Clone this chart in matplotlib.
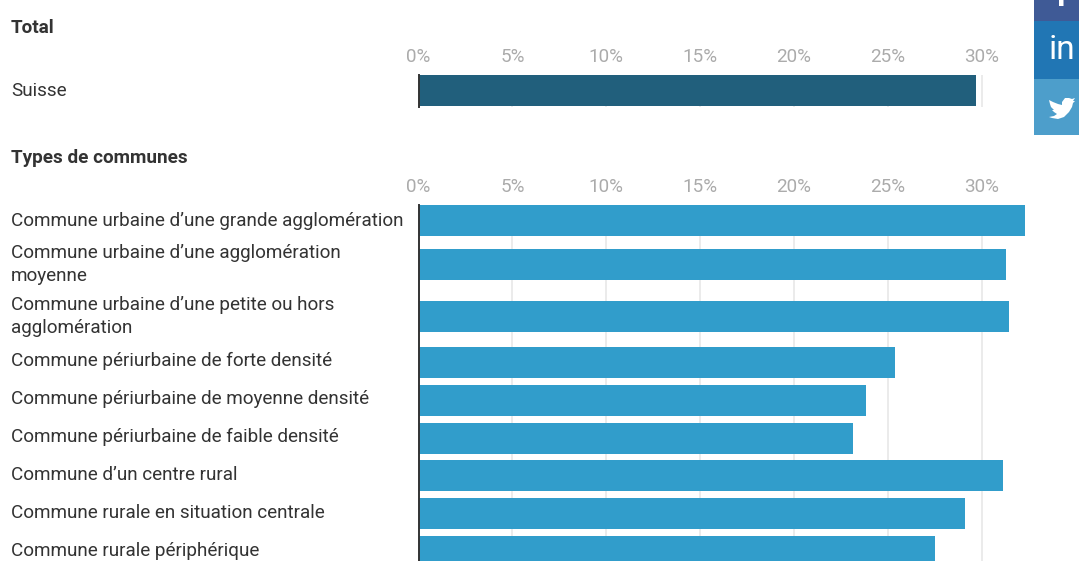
import matplotlib
matplotlib.use('Agg')
import matplotlib.pyplot as plt
from matplotlib.patches import Rectangle, Polygon

plt.rcParams['font.family'] = ['Roboto', 'DejaVu Sans']

W, H = 1079, 561

total_labels = ['Suisse']
total_values = [29.7]

commune_labels = ['Commune urbaine d\u2019une grande agglomération',
                  'Commune urbaine d\u2019une agglomération\nmoyenne',
                  'Commune urbaine d\u2019une petite ou hors\nagglomération',
                  'Commune périurbaine de forte densité',
                  'Commune périurbaine de moyenne densité',
                  'Commune périurbaine de faible densité',
                  'Commune d\u2019un centre rural',
                  'Commune rurale en situation centrale',
                  'Commune rurale périphérique']
commune_values = [32.3, 31.3, 31.45, 25.4, 23.85, 23.15, 31.15, 29.1, 27.5]

tick_values = [0, 5, 10, 15, 20, 25, 30]
tick_labels = ['0%', '5%', '10%', '15%', '20%', '25%', '30%']

x0 = 418.5         # pixel of 0%
px_per_pct = 18.77
x_end = 1034


def make_axes(y_top, y_bottom):
    ax = fig.add_axes([x0 / W, 1 - y_bottom / H, (x_end - x0) / W, (y_bottom - y_top) / H])
    ax.set_xlim(0, (x_end - x0) / px_per_pct)
    ax.set_ylim(y_bottom, y_top)   # y in pixels of the figure
    ax.patch.set_alpha(0)
    for s in ['top', 'right', 'bottom']:
        ax.spines[s].set_visible(False)
    ax.spines['left'].set_color('#333333')
    ax.spines['left'].set_linewidth(1.4)
    ax.set_xticks(tick_values)
    ax.set_xticklabels(tick_labels, fontsize=13.6, color='#ababab')
    ax.xaxis.tick_top()
    ax.tick_params(axis='x', length=0, pad=6.5)
    ax.grid(axis='x', color='#e8e8e8', linewidth=1.2)
    ax.set_axisbelow(True)
    return ax


def draw_labels(ax, label_y, labels):
    # labels get their own y list: they do not sit exactly on the bar centres
    sec = ax.secondary_yaxis('left')
    sec.spines['left'].set_visible(False)
    sec.set_yticks(label_y)
    sec.set_yticklabels(labels, fontsize=13.55, color='#333333', linespacing=1.3, ha='left', va='center')
    # pad is in points, labels start at 11 px from the left edge
    sec.tick_params(axis='y', length=0, pad=(x0 - 11) * 0.72)
    ax.set_yticks([])


fig = plt.figure(figsize=(W / 100, H / 100), dpi=100, facecolor='white')

# Total
ax1 = make_axes(75, 107)
ax1.barh([90.5], total_values, height=31, color='#215f7c')
draw_labels(ax1, [91], total_labels)

# Types de communes
ax2 = make_axes(205, 561)
centers = [220.5, 264.5, 316.5, 362.5, 400.5, 438.5, 475.5, 513.5, 551.5]
label_y = [220.5, 264.5, 316.5, 360.5, 398.5, 436.5, 474.5, 512.5, 550.5]
ax2.barh(centers, commune_values, height=31, color='#319dcb')
draw_labels(ax2, label_y, commune_labels)

# overlay in pixels for the section titles and the share buttons
ov = fig.add_axes([0, 0, 1, 1])
ov.set_xlim(0, W)
ov.set_ylim(H, 0)
ov.axis('off')
ov.patch.set_alpha(0)

ov.text(11, 28, 'Total', fontsize=13.55, fontweight='bold', color='#333333', va='center')
ov.text(11, 158, 'Types de communes', fontsize=13.55, fontweight='bold', color='#333333', va='center')

ov.add_patch(Rectangle((1034, 0), 45, 21, color='#3f5a96', lw=0))
ov.add_patch(Rectangle((1034, 21), 45, 58, color='#2176b4', lw=0))
ov.add_patch(Rectangle((1034, 79), 45, 55.5, color='#4d9ecb', lw=0))
ov.text(1061, 6, 'f', fontsize=23, fontweight='bold', color='white', ha='center', va='baseline')
ov.text(1062, 50, 'in', fontsize=24, color='white', ha='center', va='center')

bird = [(1049, 100), (1053, 102), (1058, 104), (1062, 105), (1062, 102), (1065, 98),
        (1069, 98), (1072, 99), (1075, 98), (1073, 101), (1075, 101), (1073, 103),
        (1072, 107), (1069, 112), (1064, 117), (1058, 119), (1052, 118), (1049, 117),
        (1054, 116), (1057, 114), (1054, 112), (1052, 110), (1054, 110), (1051, 107),
        (1050, 104)]
ov.add_patch(Polygon(bird, closed=True, color='white', lw=0))

fig.savefig('out.png', dpi=100)
